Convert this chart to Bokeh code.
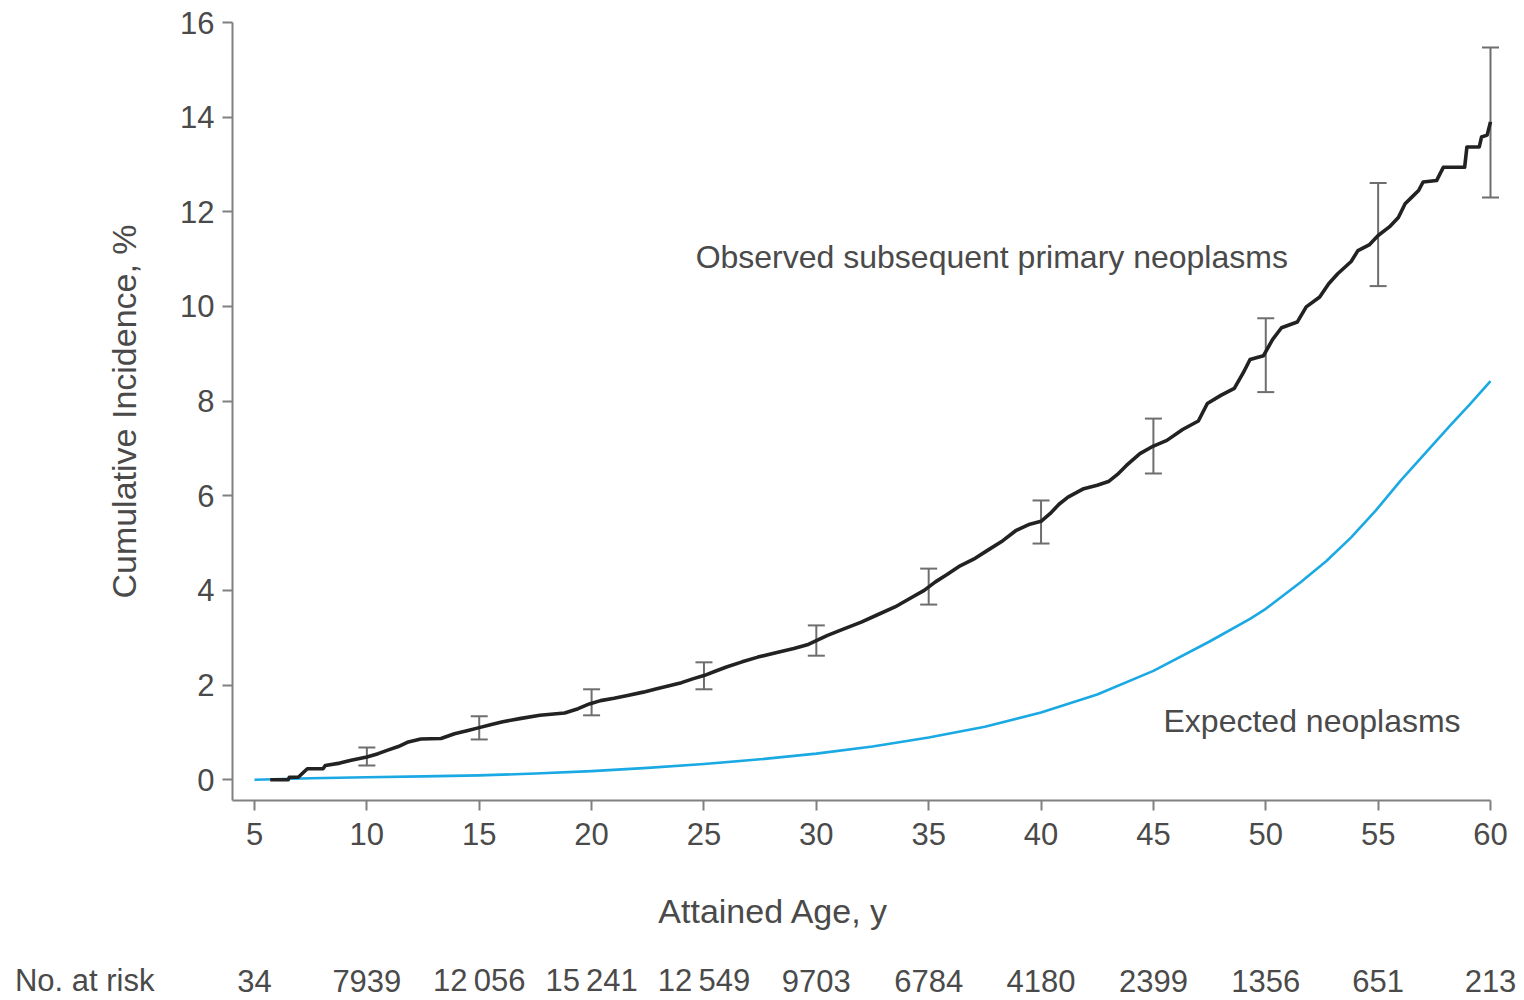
from bokeh.plotting import figure
from bokeh.layouts import column
from bokeh.models import Range1d, FixedTicker, Whisker, TeeHead, ColumnDataSource
from bokeh.core.properties import value
from bokeh.embed import file_html
from bokeh.resources import INLINE

# Observed cumulative incidence of subsequent primary neoplasms (%)
obs_age = [5.7, 6.5, 6.55, 6.95, 7.35, 8.05, 8.15, 8.8, 9.3, 10.0, 10.5, 10.9, 11.4,
           11.8, 12.4, 13.3, 13.9, 14.5, 15.0, 15.5, 16.0, 16.8, 17.7, 18.8, 19.4,
           19.9, 20.4, 21.0, 21.6, 22.3, 22.9, 23.5, 24.0, 24.5, 25.0, 25.5, 26.0,
           26.7, 27.4, 28.2, 29.0, 29.6, 30.0, 30.5, 31.2, 32.0, 32.7, 33.5, 34.2,
           34.8, 35.3, 35.8, 36.4, 37.0, 37.6, 38.3, 38.9, 39.5, 40.0, 40.4, 40.8,
           41.2, 41.9, 42.5, 43.0, 43.4, 43.8, 44.4, 45.0, 45.6, 46.3, 47.0, 47.4,
           48.0, 48.6, 49.0, 49.3, 49.9, 50.3, 50.7, 51.4, 51.8, 52.4, 52.8, 53.2,
           53.8, 54.1, 54.6, 55.0, 55.5, 55.9, 56.2, 56.5, 56.8, 57.0, 57.6, 57.9,
           58.85, 58.95, 59.5, 59.6, 59.85, 60.0]
obs_pct = [0.00, 0.00, 0.05, 0.05, 0.23, 0.23, 0.30, 0.35, 0.41, 0.48, 0.55, 0.62, 0.70,
           0.79, 0.86, 0.87, 0.97, 1.04, 1.10, 1.16, 1.22, 1.29, 1.36, 1.41, 1.50,
           1.60, 1.67, 1.72, 1.78, 1.85, 1.92, 1.99, 2.05, 2.13, 2.20, 2.29, 2.38,
           2.49, 2.59, 2.68, 2.77, 2.85, 2.94, 3.05, 3.18, 3.33, 3.48, 3.65, 3.84,
           4.00, 4.18, 4.33, 4.52, 4.66, 4.84, 5.05, 5.27, 5.40, 5.46, 5.62, 5.82,
           5.97, 6.15, 6.22, 6.30, 6.45, 6.64, 6.89, 7.05, 7.17, 7.40, 7.58, 7.95,
           8.12, 8.27, 8.60, 8.88, 8.96, 9.30, 9.55, 9.67, 9.99, 10.20, 10.48, 10.69,
           10.95, 11.18, 11.30, 11.50, 11.68, 11.88, 12.17, 12.31, 12.45, 12.63, 12.66, 12.94,
           12.94, 13.37, 13.37, 13.58, 13.62, 13.90]

# 95% confidence limits at 5-year ages
ci_age = [10, 15, 20, 25, 30, 35, 40, 45, 50, 55, 60]
ci_low = [0.30, 0.85, 1.36, 1.91, 2.62, 3.70, 4.99, 6.47, 8.19, 10.43, 12.30]
ci_high = [0.68, 1.34, 1.91, 2.48, 3.26, 4.46, 5.90, 7.63, 9.75, 12.61, 15.47]

# Expected cumulative incidence (%)
exp_age = [5, 7.5, 10, 12.5, 15, 17.5, 20, 22.5, 25, 27.5, 30, 32.5, 35, 37.5, 40,
           42.5, 45, 47.5, 49.3, 50, 51.55, 52.7, 53.8, 54.9, 56.0, 57.1, 58.2, 59.1, 60]
exp_pct = [0.00, 0.03, 0.05, 0.07, 0.09, 0.13, 0.18, 0.25, 0.33, 0.43, 0.55, 0.70,
           0.89, 1.12, 1.42, 1.80, 2.30, 2.92, 3.40, 3.61, 4.17, 4.62, 5.12, 5.69,
           6.32, 6.90, 7.48, 7.94, 8.42]

# Number at risk
risk_age = [5, 10, 15, 20, 25, 30, 35, 40, 45, 50, 55, 60]
risk_n = ["34", "7939", "12\u2009056", "15\u2009241", "12\u2009549", "9703", "6784",
          "4180", "2399", "1356", "651", "213"]

y_ticks = [0, 2, 4, 6, 8, 10, 12, 14, 16]
x_ticks = [5, 10, 15, 20, 25, 30, 35, 40, 45, 50, 55, 60]

FONT = "Liberation Sans"
TEXT = "#4a4a4a"
AXIS = "#808080"
WHISK = "#6e6e6e"

px_per_year = (1490 - 254) / 55.0
X0 = 5 - (254 - 232) / px_per_year
X1 = 60 + (1524 - 1490) / px_per_year
age_range = Range1d(X0, X1)

# main panel
p = figure(width=1524, height=870, output_backend="svg", toolbar_location=None,
           x_range=age_range, y_range=Range1d(-0.44, 16),
           min_border_left=232, min_border_right=0, min_border_top=22,
           min_border_bottom=70)
p.outline_line_color = None
p.grid.visible = False

for ax in (p.xaxis[0], p.yaxis[0]):
    ax.axis_line_color = AXIS
    ax.axis_line_width = 2
    ax.major_tick_line_color = AXIS
    ax.major_tick_line_width = 2
    ax.major_tick_out = 10
    ax.major_tick_in = 0
    ax.minor_tick_line_color = None
    ax.major_label_text_font = FONT
    ax.major_label_text_font_size = "31px"
    ax.major_label_text_color = TEXT

p.xaxis.ticker = FixedTicker(ticks=x_ticks)
p.yaxis.ticker = FixedTicker(ticks=y_ticks)
p.xaxis.bounds = (X0, 60)
p.xaxis.major_label_standoff = 12
p.yaxis.major_label_standoff = 8

p.yaxis.axis_label = "Cumulative Incidence, %"
p.yaxis.axis_label_text_font = FONT
p.yaxis.axis_label_text_font_size = "34px"
p.yaxis.axis_label_text_font_style = "normal"
p.yaxis.axis_label_text_color = TEXT
p.yaxis.axis_label_standoff = 34

# expected curve
p.line(exp_age, exp_pct, line_color="#1aa9e3", line_width=2.6, line_join="round")

# observed curve
p.line(obs_age, obs_pct, line_color="#222222", line_width=3.6, line_join="round")

# confidence interval whiskers
ci_src = ColumnDataSource(dict(age=ci_age, lower=ci_low, upper=ci_high))
p.add_layout(Whisker(source=ci_src, base="age", lower="lower", upper="upper",
                     line_color=WHISK, line_width=2,
                     upper_head=TeeHead(size=17, line_color=WHISK, line_width=2),
                     lower_head=TeeHead(size=17, line_color=WHISK, line_width=2)))

p.text([24.63], [11.04], text=["Observed subsequent primary neoplasms"],
       text_font=value(FONT), text_font_size="32px", text_color=TEXT,
       text_align="left", text_baseline="middle")
p.text([45.45], [1.25], text=["Expected neoplasms"],
       text_font=value(FONT), text_font_size="32px", text_color=TEXT,
       text_align="left", text_baseline="middle")

# lower panel: axis title and number-at-risk row on the same age scale
ROW_Y = 20
q = figure(width=1524, height=130, output_backend="svg", toolbar_location=None,
           x_range=age_range, y_range=Range1d(0, 130), x_axis_type=None,
           min_border_left=232, min_border_right=0, min_border_top=0,
           min_border_bottom=0)
q.outline_line_color = None
q.grid.visible = False

# row caption sits where a y tick label would
q.yaxis.ticker = FixedTicker(ticks=[ROW_Y])
q.yaxis.major_label_overrides = {ROW_Y: "No. at risk"}
q.yaxis.axis_line_color = None
q.yaxis.major_tick_line_color = None
q.yaxis.minor_tick_line_color = None
q.yaxis.major_label_standoff = 72
q.yaxis.major_label_text_font = FONT
q.yaxis.major_label_text_font_size = "31px"
q.yaxis.major_label_text_color = TEXT

q.text([28.1], [90], text=["Attained Age, y"], text_font=value(FONT),
       text_font_size="34px", text_color=TEXT, text_align="center",
       text_baseline="middle")
q.text(risk_age, [ROW_Y] * len(risk_age), text=risk_n, text_font=value(FONT),
       text_font_size="31px", text_color=TEXT, text_align="center",
       text_baseline="middle")

layout = column(p, q, spacing=0)
open("out.html", "w").write(file_html(layout, INLINE))
